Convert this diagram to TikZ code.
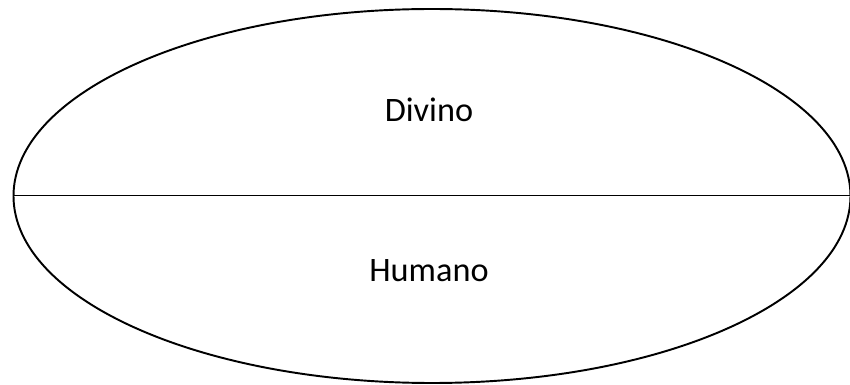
\documentclass[tikz,border=0pt]{standalone}
\usepackage{fontspec}
\setmainfont{Carlito}
\begin{document}
\begin{tikzpicture}[x=0.02cm,y=-0.02cm,
  part/.style={font=\fontsize{19.5}{23}\selectfont}]
  \useasboundingbox (0,0) rectangle (850,385);
  % the whole
  \draw[line width=1.1pt] (432,196) ellipse [x radius=418.5, y radius=187];
  \coordinate (lft) at (13.5,195.5);
  \coordinate (rgt) at (850,195.5);
  \draw[line width=0.7pt] (lft) -- (rgt);
  \node[part] (divino) at (429,110) {Divino};
  \node[part] (humano) at (429,271) {Humano};
\end{tikzpicture}
\end{document}
